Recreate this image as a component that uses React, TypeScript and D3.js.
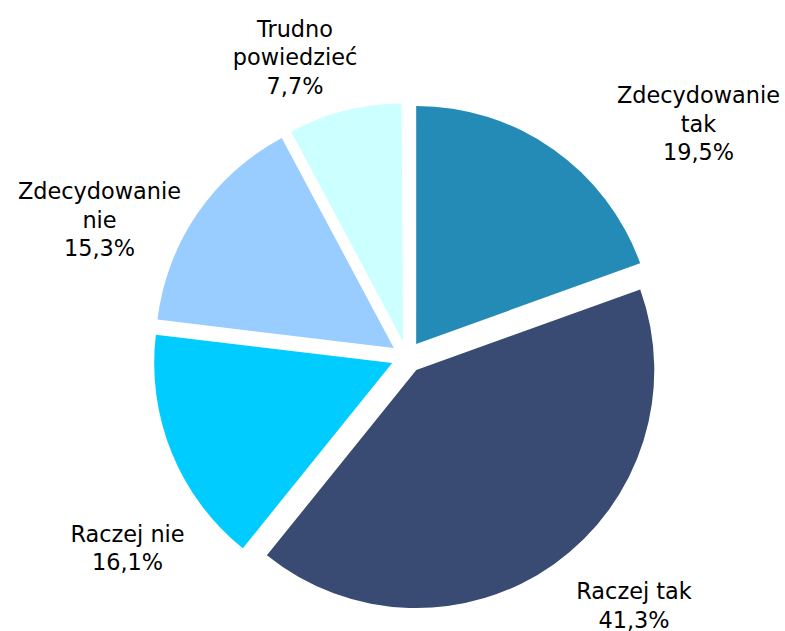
import React from "react";
import * as d3 from "d3";

const categories = ["Zdecydowanie tak", "Raczej tak", "Raczej nie", "Zdecydowanie nie", "Trudno powiedzieć"];
const values = [19.5, 41.3, 16.1, 15.3, 7.7];
const labelLines = [
  ["Zdecydowanie", "tak"],
  ["Raczej tak"],
  ["Raczej nie"],
  ["Zdecydowanie", "nie"],
  ["Trudno", "powiedzieć"],
];
const colors = ["#238BB5", "#394B72", "#00CCFF", "#99CCFF", "#CCFFFF"];

// layout (not data)
const W = 785;
const H = 631;
const CX = 407;
const CY = 357;
const R = 238;
const EXPLODE = 16;
const LINE_H = 28.5;
// label anchor: center x and first baseline y
const labelAnchors: [number, number][] = [
  [698.5, 103],
  [634, 599],
  [127.5, 541.5],
  [99.5, 199],
  [295, 36.5],
];

const fmt = (v: number) => v.toFixed(1).replace(".", ",") + "%";

export default function App() {
  const pie = d3
    .pie<number>()
    .sort(null)
    .value((d) => d)
    .startAngle(0)
    .endAngle(2 * Math.PI * (d3.sum(values) / 100));
  const arcs = pie(values);
  const arc = d3.arc<d3.PieArcDatum<number>>().innerRadius(0).outerRadius(R);

  return (
    <svg
      width={W}
      height={H}
      style={{ position: "absolute", left: 0, top: 0, background: "#fff" }}
      fontFamily="'DejaVu Sans', Verdana, sans-serif"
    >
      <g transform={`translate(${CX},${CY})`}>
        {arcs.map((a, i) => {
          const mid = (a.startAngle + a.endAngle) / 2;
          const dx = Math.sin(mid) * EXPLODE;
          const dy = -Math.cos(mid) * EXPLODE;
          return (
            <path
              key={categories[i]}
              d={arc(a) || ""}
              fill={colors[i]}
              transform={`translate(${dx},${dy})`}
            />
          );
        })}
      </g>
      {categories.map((c, i) => {
        const [x, y] = labelAnchors[i];
        const lines = [...labelLines[i], fmt(values[i])];
        return (
          <text key={c} x={x} y={y} textAnchor="middle" fontSize={22.4} fill="#000">
            {lines.map((l, j) => (
              <tspan key={j} x={x} y={y + j * LINE_H}>
                {l}
              </tspan>
            ))}
          </text>
        );
      })}
    </svg>
  );
}
